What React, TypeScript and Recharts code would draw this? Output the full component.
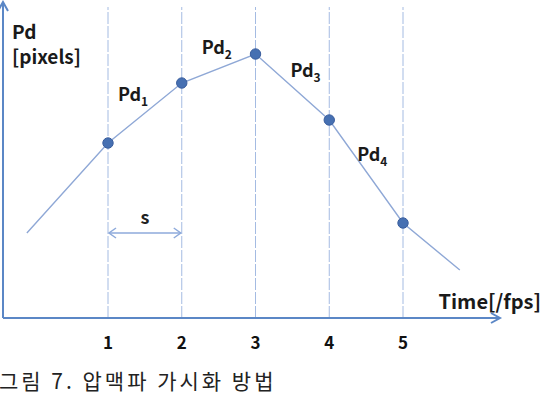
import React from "react";
import { ComposedChart, Line, XAxis, YAxis, ReferenceLine, ReferenceDot } from "recharts";

// ---- data ----
const times = [-0.1, 1, 2, 3, 4, 5, 5.77];
const pdValues = [85, 175, 235, 264, 198, 95, 48];
const markedTimes = [1, 2, 3, 4, 5];
const tickLabels = ["1", "2", "3", "4", "5"];
const segmentLabels = ["1", "2", "3", "4"];
const xDomain: [number, number] = [-0.4237, 6.315];
const yDomain: [number, number] = [0, 318];
const yAxisTitle = ["Pd", "[pixels]"];
const xAxisTitle = "Time[/fps]";
const caption = "그림 7. 압맥파 가시화 방법";
const spanLabel = "s";

const data = times.map((t, i) => ({ t, pd: pdValues[i], marked: markedTimes.includes(t) }));

// label offsets (style) relative to segment midpoints
const labelOffsets = [
  { dx: -27, dy: -12 },
  { dx: -17, dy: -15 },
  { dx: -2, dy: -10 },
  { dx: -9, dy: -11 },
];

const AXIS = "#5b87c6";
const GRID = "#a4bbe2";
const LINE = "#8fa8d6";
const DOT = "#4670b2";
const FONT = "'Noto Sans CJK KR', 'Noto Sans', sans-serif";

const Dot = (p: any) => {
  if (!p.payload || !p.payload.marked) return <g key={p.key} />;
  return <circle key={p.key} cx={p.cx} cy={p.cy} r={5.2} fill={DOT} stroke="#3a5e9e" strokeWidth={1} />;
};

const Tick = (p: any) => (
  <text x={p.x} y={p.y + 23} textAnchor="middle" fontFamily={FONT} fontWeight={700} fontSize={17} fill="#111">
    {tickLabels[p.index]}
  </text>
);

const XAxisArrow = (p: any) => (
  <g>
    <line x1={p.x1} y1={p.y1} x2={p.x2} y2={p.y2} stroke={AXIS} strokeWidth={2} />
    <polyline points={`${p.x2 - 9},${p.y2 - 5} ${p.x2},${p.y2} ${p.x2 - 9},${p.y2 + 5}`} fill="none" stroke={AXIS} strokeWidth={2} />
  </g>
);

const YAxisArrow = (p: any) => {
  const top = Math.min(p.y1, p.y2) + 2;
  const bottom = Math.max(p.y1, p.y2);
  return (
    <g>
      <line x1={p.x1} y1={bottom} x2={p.x1} y2={top} stroke={AXIS} strokeWidth={2} />
      <polyline points={`${p.x1 - 5},${top + 9} ${p.x1},${top} ${p.x1 + 5},${top + 9}`} fill="none" stroke={AXIS} strokeWidth={2} />
    </g>
  );
};

const SpanArrow = (p: any) => {
  const y = p.y1;
  const a = p.x1 + 1;
  const b = p.x2 - 1;
  return (
    <g>
      <line x1={a} y1={y} x2={b} y2={y} stroke="#8eaadb" strokeWidth={1.5} />
      <polyline points={`${a + 7},${y - 5} ${a},${y} ${a + 7},${y + 5}`} fill="none" stroke="#8eaadb" strokeWidth={1.5} />
      <polyline points={`${b - 7},${y - 5} ${b},${y} ${b - 7},${y + 5}`} fill="none" stroke="#8eaadb" strokeWidth={1.5} />
      <text x={(a + b) / 2} y={y - 9} textAnchor="middle" fontFamily={FONT} fontWeight={700} fontSize={18} fill="#222">
        {spanLabel}
      </text>
    </g>
  );
};

const segLabel = (i: number) => (p: any) => (
  <text x={p.cx + labelOffsets[i].dx} y={p.cy + labelOffsets[i].dy} fontFamily={FONT} fontWeight={700} fontSize={18} fill="#1a1a1a">
    Pd
    <tspan fontSize={12} dy={5}>{segmentLabels[i]}</tspan>
  </text>
);

const seg = markedTimes.slice(0, 4).map((t, i) => {
  const a = data.find((d) => d.t === t)!;
  const b = data.find((d) => d.t === markedTimes[i + 1])!;
  return { x: (a.t + b.t) / 2, y: (a.pd + b.pd) / 2 };
});

export default function App() {
  return (
    <div style={{ position: "absolute", left: 0, top: 0, width: 548, height: 400, background: "#fff" }}>
      <ComposedChart width={548} height={400} data={data} margin={{ top: 0, right: 48, bottom: 0, left: 3 }} style={{ overflow: "visible" }}>
        <XAxis
          dataKey="t"
          type="number"
          domain={xDomain}
          allowDataOverflow
          ticks={markedTimes}
          axisLine={false}
          tickLine={false}
          height={82}
          tick={<Tick />}
        />
        <YAxis hide domain={yDomain} allowDataOverflow />
        {markedTimes.map((t) => (
          <ReferenceLine
            key={t}
            segment={[{ x: t, y: 0 }, { x: t, y: 311 }]}
            stroke={GRID}
            strokeWidth={1}
            strokeDasharray="12 2"
            ifOverflow="visible"
          />
        ))}
        <ReferenceLine segment={[{ x: 1, y: 85 }, { x: 2, y: 85 }]} shape={<SpanArrow />} ifOverflow="visible" />
        <ReferenceLine segment={[{ x: xDomain[0], y: 0 }, { x: xDomain[1], y: 0 }]} shape={<XAxisArrow />} ifOverflow="visible" />
        <ReferenceLine segment={[{ x: xDomain[0], y: 0 }, { x: xDomain[0], y: 318 }]} shape={<YAxisArrow />} ifOverflow="visible" />
        <Line dataKey="pd" stroke={LINE} strokeWidth={1.4} dot={<Dot />} activeDot={false} isAnimationActive={false} />
        {seg.map((s, i) => (
          <ReferenceDot key={i} x={s.x} y={s.y} r={0} shape={segLabel(i)} ifOverflow="visible" />
        ))}
        <text x={12} y={39} fontFamily={FONT} fontWeight={700} fontSize={19} fill="#1a1a1a">{yAxisTitle[0]}</text>
        <text x={12} y={64} fontFamily={FONT} fontWeight={700} fontSize={19} fill="#1a1a1a">{yAxisTitle[1]}</text>
        <text x={541} y={309} textAnchor="end" fontFamily={FONT} fontWeight={700} fontSize={20} fill="#1a1a1a">{xAxisTitle}</text>
        <text x={-1} y={389} fontFamily={FONT} fontSize={21} fill="#222" letterSpacing={3}>{caption}</text>
      </ComposedChart>
    </div>
  );
}
